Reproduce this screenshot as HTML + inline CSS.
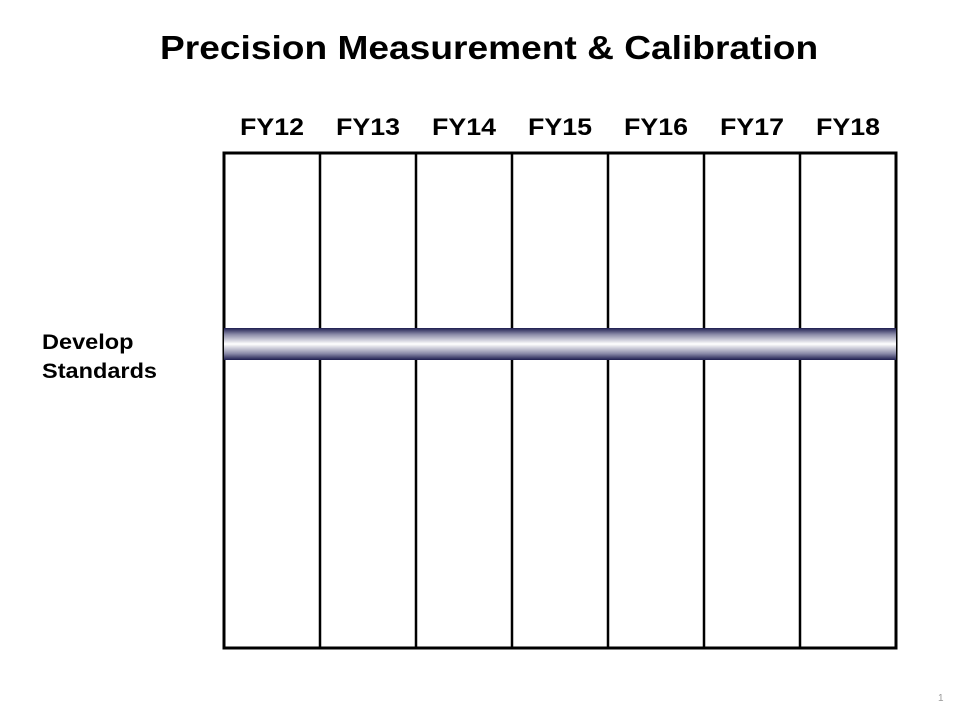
<!DOCTYPE html>
<html><head><meta charset="utf-8"><style>
body{margin:0;width:960px;height:720px;background:#fff;font-family:"Liberation Sans",Arial,sans-serif;position:relative;overflow:hidden}
.t{position:absolute;white-space:nowrap}
</style></head><body>
<div class="t" style="left:160px;top:29px;font-size:33px;font-weight:bold;transform:scaleX(1.125);transform-origin:0 0;">Precision Measurement &amp; Calibration</div>
<div class="t" style="left:42px;top:328px;font-size:21px;font-weight:bold;line-height:29px;transform:scaleX(1.12);transform-origin:0 0;">Develop<br>Standards</div>
<div class="t" style="left:938px;top:693px;font-size:10px;color:#999;">1</div>
<svg id="chart" width="960" height="720" style="position:absolute;left:0;top:0">
<defs><linearGradient id="g" x1="0" y1="0" x2="0" y2="1">
<stop offset="0" stop-color="#1e1e50"/><stop offset="0.2" stop-color="#8a8aa8"/><stop offset="0.5" stop-color="#ffffff"/><stop offset="0.8" stop-color="#8a8aa8"/><stop offset="1" stop-color="#1e1e50"/></linearGradient></defs>
</svg>
<script>
const years=["FY12","FY13","FY14","FY15","FY16","FY17","FY18"];
const taskNames=["Develop Standards"];
const taskStart=[0];
const taskEnd=[7];
const svg=document.getElementById('chart');
const NS='http://www.w3.org/2000/svg';
const L=224,R=896,T=153,B=648,cw=(R-L)/years.length;
const x=i=>L+i*cw;
function mk(tag,a){const e=document.createElementNS(NS,tag);for(const k in a)e.setAttribute(k,a[k]);svg.appendChild(e);return e;}
years.forEach((y,i)=>{
 const tx=mk('text',{x:x(i)+cw/2,y:135,'text-anchor':'middle','font-size':24,'font-weight':'bold','font-family':'Liberation Sans, sans-serif',textLength:64,lengthAdjust:'spacingAndGlyphs'});
 tx.textContent=y;
 
 
});
const frame=mk('rect',{x:L,y:T,width:R-L,height:B-T,fill:'none',stroke:'#000','stroke-width':3});


for(let i=1;i<years.length;i++){
 const ln=mk('line',{x1:x(i),x2:x(i),y1:T,y2:B,stroke:'#000','stroke-width':2.5});
 
 
}
taskNames.forEach((n,k)=>{
 const b=mk('rect',{x:x(taskStart[k]),y:328+k*60,width:x(taskEnd[k])-x(taskStart[k]),height:32,fill:'url(#g)'});
 
 
});
</script>
</body></html>
